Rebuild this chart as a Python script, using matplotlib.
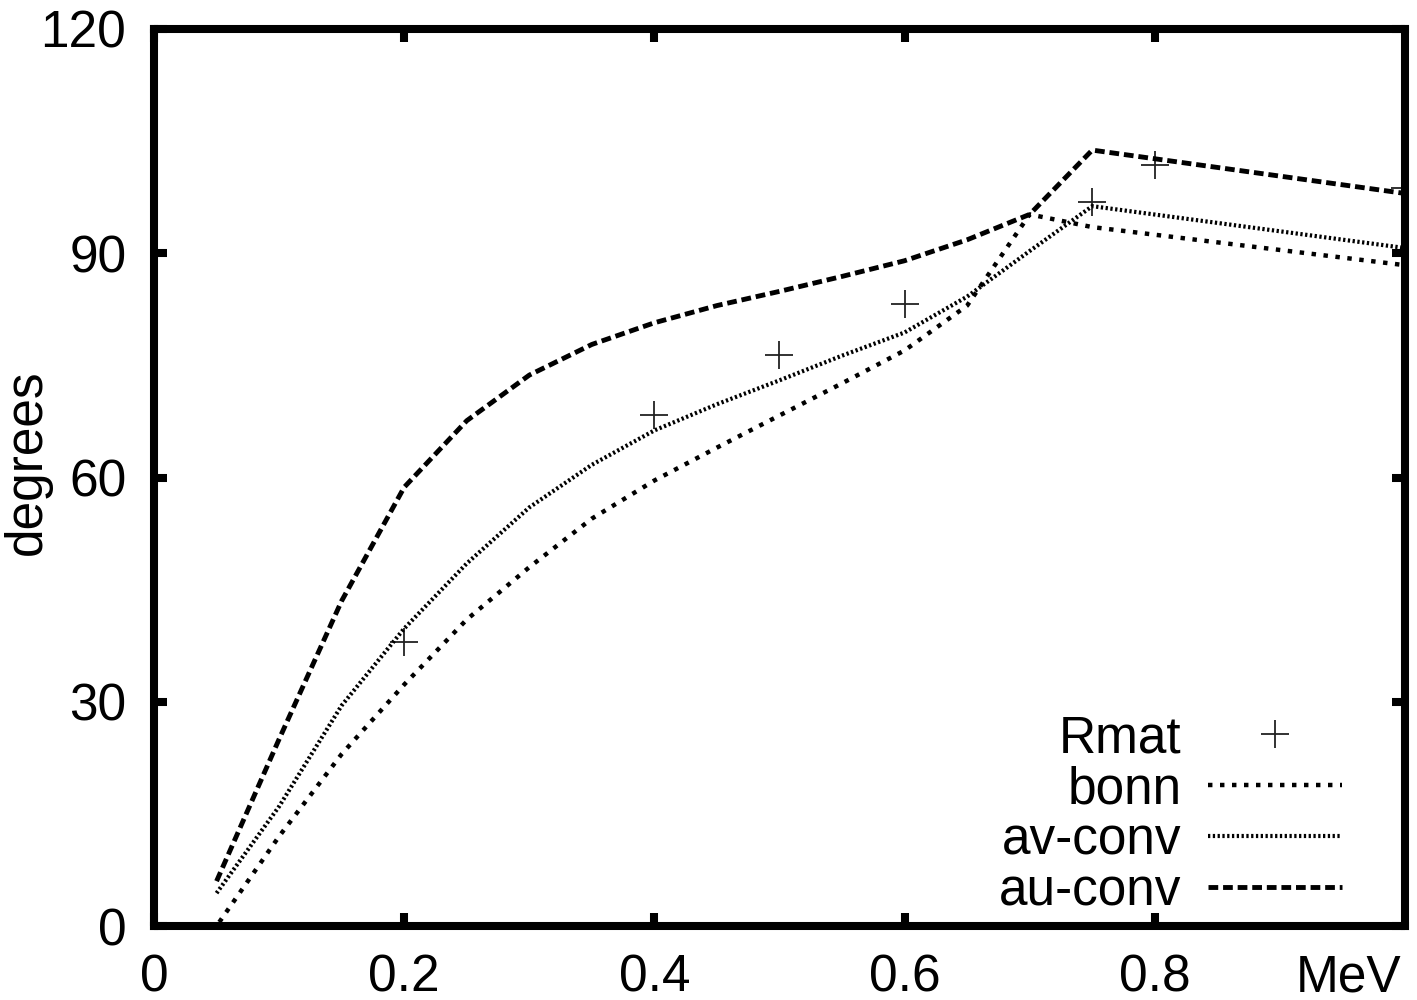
import matplotlib
matplotlib.use("Agg")
import matplotlib.pyplot as plt

plt.rcParams['font.family'] = ['Liberation Sans', 'DejaVu Sans']

# data
rmat_x = [0.2, 0.4, 0.5, 0.6, 0.75, 0.8, 1.0]
rmat_y = [38.0, 68.3, 76.4, 83.2, 96.9, 101.8, 98.7]

bonn_x = [0.025, 0.05, 0.1, 0.15, 0.2, 0.25, 0.3, 0.35, 0.4, 0.45, 0.5, 0.55, 0.6, 0.65, 0.7, 0.75, 1.0]
bonn_y = [0.0, 0.0, 12.0, 23.0, 32.3, 41.0, 48.0, 54.5, 59.6, 64.0, 68.3, 72.6, 77.0, 83.0, 95.2, 93.5, 88.4]

av_x = [0.05, 0.1, 0.15, 0.2, 0.25, 0.3, 0.35, 0.4, 0.45, 0.5, 0.55, 0.6, 0.65, 0.7, 0.75, 1.0]
av_y = [4.4, 16.0, 29.5, 39.8, 48.5, 56.0, 61.7, 66.3, 69.8, 73.0, 76.3, 79.4, 84.2, 90.3, 96.3, 90.7]

au_x = [0.05, 0.1, 0.15, 0.2, 0.25, 0.3, 0.35, 0.4, 0.45, 0.5, 0.55, 0.6, 0.65, 0.7, 0.75, 1.0]
au_y = [6.0, 25.0, 43.5, 58.7, 67.6, 73.7, 77.8, 80.7, 83.0, 84.9, 86.9, 89.0, 91.8, 95.2, 103.8, 98.0]

xticks = [0, 0.2, 0.4, 0.6, 0.8]
xticklabels = ['0', '0.2', '0.4', '0.6', '0.8']
yticks = [0, 30, 60, 90, 120]

fs = 37

fig = plt.figure(figsize=(14.17, 10.0), dpi=100)
ax = fig.add_axes([0.1087, 0.074, 0.9915 - 0.1087, 0.971 - 0.074])

ax.plot(rmat_x, rmat_y, linestyle='none', marker='+', markersize=20,
        markeredgewidth=1.3, color='#222222', label='Rmat')
ax.plot(bonn_x, bonn_y, color='black', lw=3.2, linestyle=(0, (1.0, 1.7)),
        dash_capstyle='butt', label='bonn')
ax.plot(av_x, av_y, color='black', lw=3.0, linestyle=(0, (0.55, 0.6)),
        dash_capstyle='butt', label='av-conv')
ax.plot(au_x, au_y, color='black', lw=3.5, linestyle=(0, (2.0, 1.0)),
        dash_capstyle='butt', label='au-conv')

ax.set_xlim(0, 1.0)
ax.set_ylim(0, 120)
ax.set_xticks(xticks)
ax.set_xticklabels(xticklabels)
ax.set_yticks(yticks)

for s in ax.spines.values():
    s.set_linewidth(5.8)
ax.tick_params(direction='in', length=9.5, width=5.8, top=True, right=True,
               labelsize=fs, pad=20)

ax.set_ylabel('degrees', fontsize=fs)
ax.yaxis.set_label_coords(-0.0814, 0.517)
ax.text(0.9975, -0.031, 'MeV', transform=ax.transAxes, ha='right', va='top',
        fontsize=fs)

leg = ax.legend(loc='lower right', bbox_to_anchor=(0.9537, 0.005), frameon=False,
                markerfirst=False, fontsize=fs, handlelength=2.6,
                handletextpad=0.52, labelspacing=0.04, borderpad=0.1,
                borderaxespad=0.0)

fig.savefig('out.png', dpi=100)
